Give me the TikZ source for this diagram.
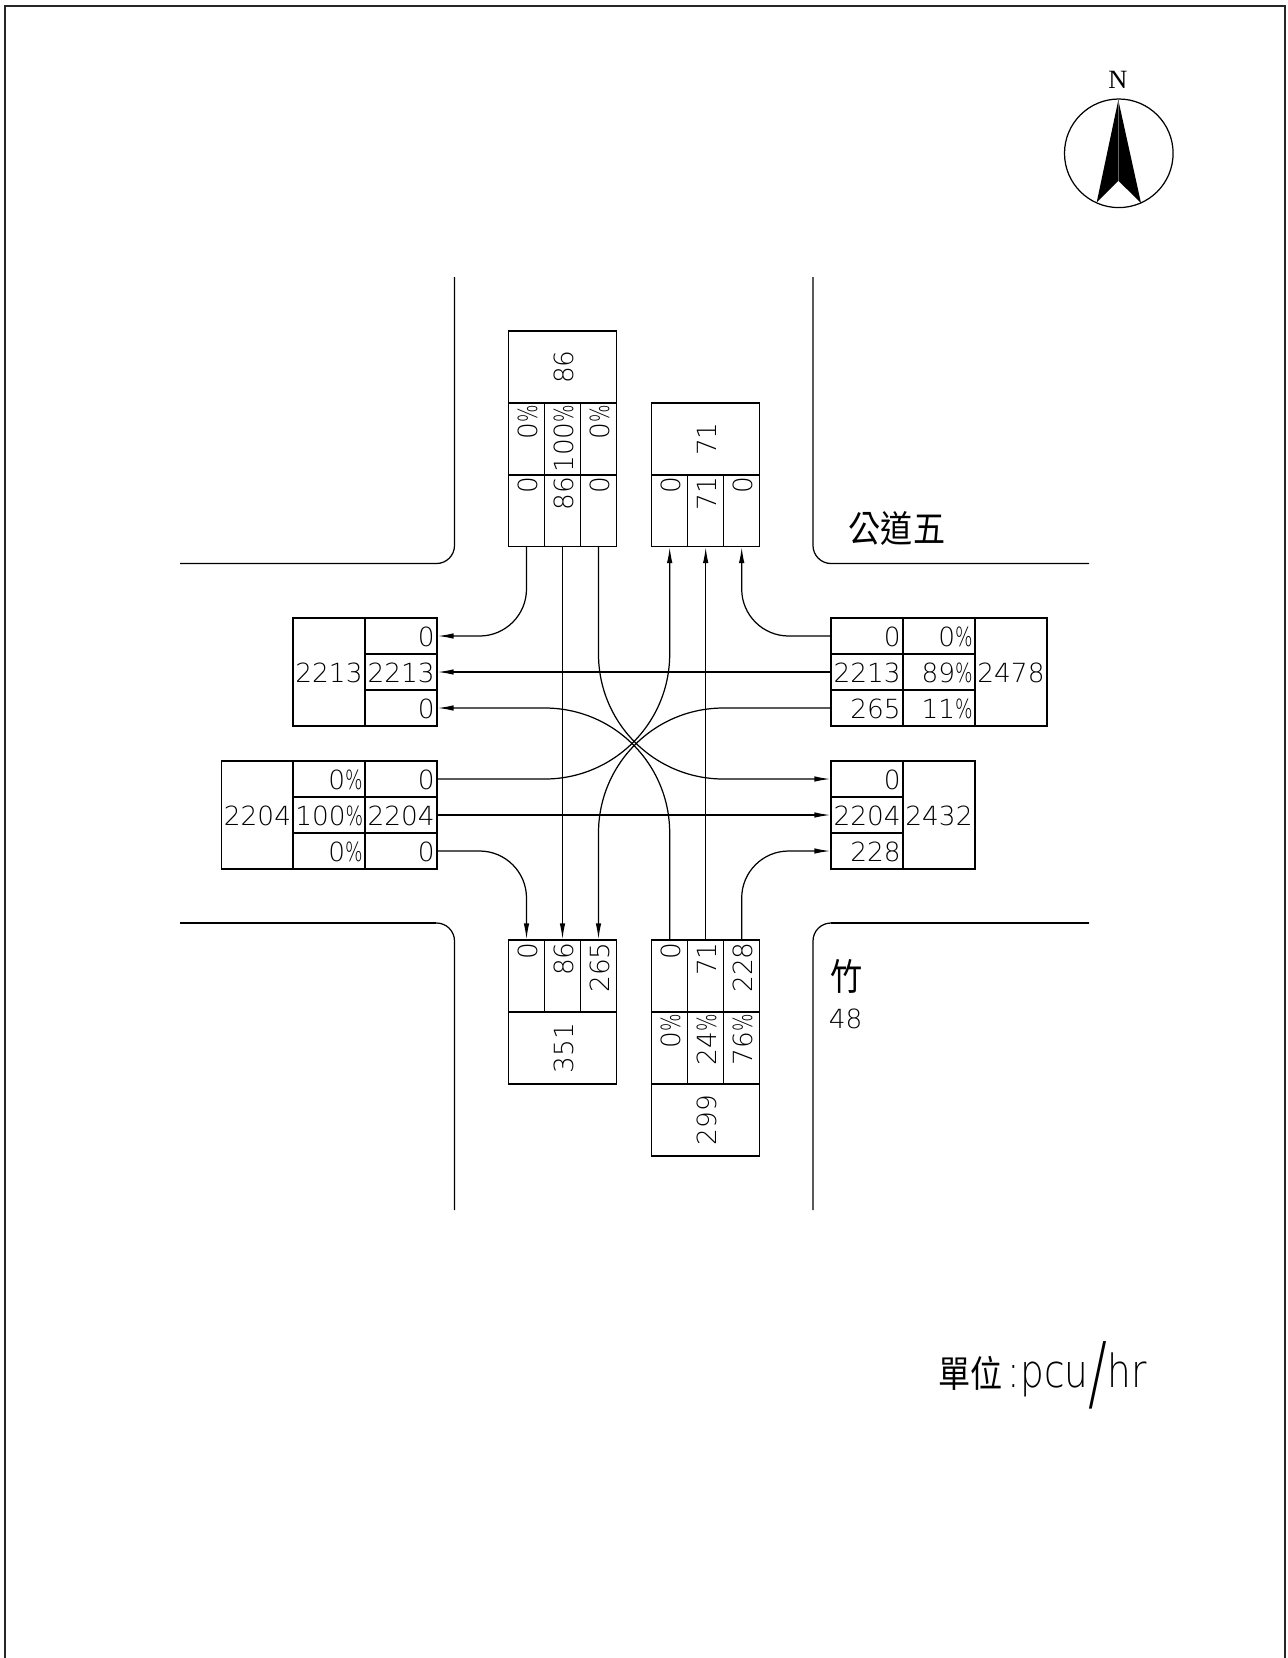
\documentclass[tikz,border=0pt]{standalone}
\usepackage{graphicx}
\usepackage{fontspec}
\setmainfont{DejaVu Sans ExtraLight}
\newfontfamily\cjk{Noto Sans CJK TC}
\newfontfamily\northfont{Liberation Serif}
\usetikzlibrary{arrows.meta}
\newcommand{\pc}{\scalebox{0.7}[1]{\%}}
\newcommand{\cjktext}[1]{\scalebox{0.87}[1]{\cjk\fontsize{21}{24}\selectfont #1}}
\tikzset{
  cellh/.style={
    rectangle, draw, line width=0.7pt, inner sep=0pt,
    minimum width=1.44cm, minimum height=0.72cm,
    text width=1.35cm, align=right,
    text height=12pt, text depth=0pt,
    font=\fontsize{15}{16}\selectfont
  },
  cellv/.style={cellh, rotate=90},
  totalh/.style={cellh, minimum height=2.16cm, text width=1.44cm, align=center},
  totalv/.style={cellv, minimum height=2.16cm, text width=1.44cm, align=center},
  flow/.style={line width=0.7pt},
  flowarrow/.style={flow, -{Latex[length=0.32cm,width=0.11cm]}},
  road/.style={line width=0.7pt, rounded corners=0.36cm},
  roadthick/.style={line width=1.6pt}
}
\begin{document}
\begin{tikzpicture}[x=0.02cm,y=-0.02cm]
  \useasboundingbox (0,0) rectangle (1288,1658);
  \draw[line width=1.2pt, black!85] (5,6) rectangle (1285,1680);

  % compass
  \node[font=\northfont\fontsize{15}{15}\selectfont] (north) at (1118,80) {N};
  \draw[line width=0.7pt] (1118.8,153.3) circle (54.3);
  \fill (1118.3,100) -- (1141,203) -- (1118.3,180.7) -- (1096.7,202.3) -- cycle;
  \draw[black!60, line width=0.2pt] (1118.3,100) -- (1118.3,180.7);

  % streets
  \draw[road] (454.5,277) -- (454.5,563.5) -- (180,563.5);
  \draw[road] (813,277) -- (813,563.5) -- (1089,563.5);
  \draw[road] (454.5,1210) -- (454.5,923) -- (180,923);
  \draw[road] (813,1210) -- (813,923) -- (1089,923);
  \draw[roadthick] (180,923) -- (436,923);
  \draw[roadthick] (831,923) -- (1089,923);

  % north approach
  \node[totalv] (ntotal) at (562.5,367) {86};
  \node[cellv] (npa) at (526.5,439) {0\pc};
  \node[cellv] (npb) at (562.5,439) {100\pc};
  \node[cellv] (npc) at (598.5,439) {0\pc};
  \node[cellv] (na) at (526.5,510.5) {0};
  \node[cellv] (nb) at (562.5,510.5) {86};
  \node[cellv] (nc) at (598.5,510.5) {0};

  \node[totalv] (mtotal) at (705.7,439) {71};
  \node[cellv] (ma) at (669.7,510.5) {0};
  \node[cellv] (mb) at (705.7,510.5) {71};
  \node[cellv] (mc) at (741.7,510.5) {0};

  % west
  \node[totalh] (wtotal) at (329,672) {2213};
  \node[cellh] (wa) at (401,636) {0};
  \node[cellh] (wb) at (401,672) {2213};
  \node[cellh] (wc) at (401,708) {0};

  \node[totalh] (xtotal) at (257.5,815) {2204};
  \node[cellh] (xpa) at (329,779) {0\pc};
  \node[cellh] (xpb) at (329,815) {100\pc};
  \node[cellh] (xpc) at (329,851) {0\pc};
  \node[cellh] (xa) at (401,779) {0};
  \node[cellh] (xb) at (401,815) {2204};
  \node[cellh] (xc) at (401,851) {0};

  % east
  \node[cellh] (ea) at (867,636) {0};
  \node[cellh] (eb) at (867,672) {2213};
  \node[cellh] (ec) at (867,708) {265};
  \node[cellh] (epa) at (939,636) {0\pc};
  \node[cellh] (epb) at (939,672) {89\pc};
  \node[cellh] (epc) at (939,708) {11\pc};
  \node[totalh] (etotal) at (1011,672) {2478};

  \node[cellh] (fa) at (867,779) {0};
  \node[cellh] (fb) at (867,815) {2204};
  \node[cellh] (fc) at (867,851) {228};
  \node[totalh] (ftotal) at (939,815) {2432};

  % south
  \node[cellv] (sa) at (526.5,976) {0};
  \node[cellv] (sb) at (562.5,976) {86};
  \node[cellv] (sc) at (598.5,976) {265};
  \node[totalv] (stotal) at (562.5,1048) {351};

  \node[cellv] (ta) at (669.7,976) {0};
  \node[cellv] (tb) at (705.7,976) {71};
  \node[cellv] (tc) at (741.7,976) {228};
  \node[cellv] (tpa) at (669.7,1048) {0\pc};
  \node[cellv] (tpb) at (705.7,1048) {24\pc};
  \node[cellv] (tpc) at (741.7,1048) {76\pc};
  \node[totalv] (ttotal) at (705.7,1120) {299};

  % straight flows
  \draw[flowarrow] (nb.west) -- (sb.east);
  \draw[flowarrow] (tb.east) -- (mb.west);
  \draw[flowarrow] (eb.west) -- (wb.east);
  \draw[flowarrow] (xb.east) -- (fb.west);

  % small turns
  \draw[flowarrow, rounded corners=0.94cm] (na.west) |- (wa.east);
  \draw[flowarrow, rounded corners=0.94cm] (ea.west) -| (mc.west);
  \draw[flowarrow, rounded corners=0.94cm] (xc.east) -| (sa.east);
  \draw[flowarrow, rounded corners=0.94cm] (tc.east) |- (fc.west);

  % large turns
  \draw[flowarrow, rounded corners=2.5cm] (nc.west) |- (fa.west);
  \draw[flowarrow, rounded corners=2.5cm] (xa.east) -| (ma.west);
  \draw[flowarrow, rounded corners=2.5cm] (ta.east) |- (wc.east);
  \draw[flowarrow, rounded corners=2.5cm] (ec.west) -| (sc.east);

  % labels
  \node (road) at (897,529) {\cjktext{公道五}};
  \node (bamboo) at (846.7,976.5) {\cjktext{竹}};
  \node[font=\fontsize{15}{16}\selectfont] (routeno) at (845.7,1019) {48};
  \node[anchor=base west, inner sep=0pt] (unit) at (938,1387) {\cjktext{單位}\hspace{3pt}\scalebox{0.82}[1]{\fontsize{26}{30}\selectfont :pcu\raisebox{-8.5pt}{\scalebox{1.5}[1.8]{/}}hr}};
\end{tikzpicture}
\end{document}
